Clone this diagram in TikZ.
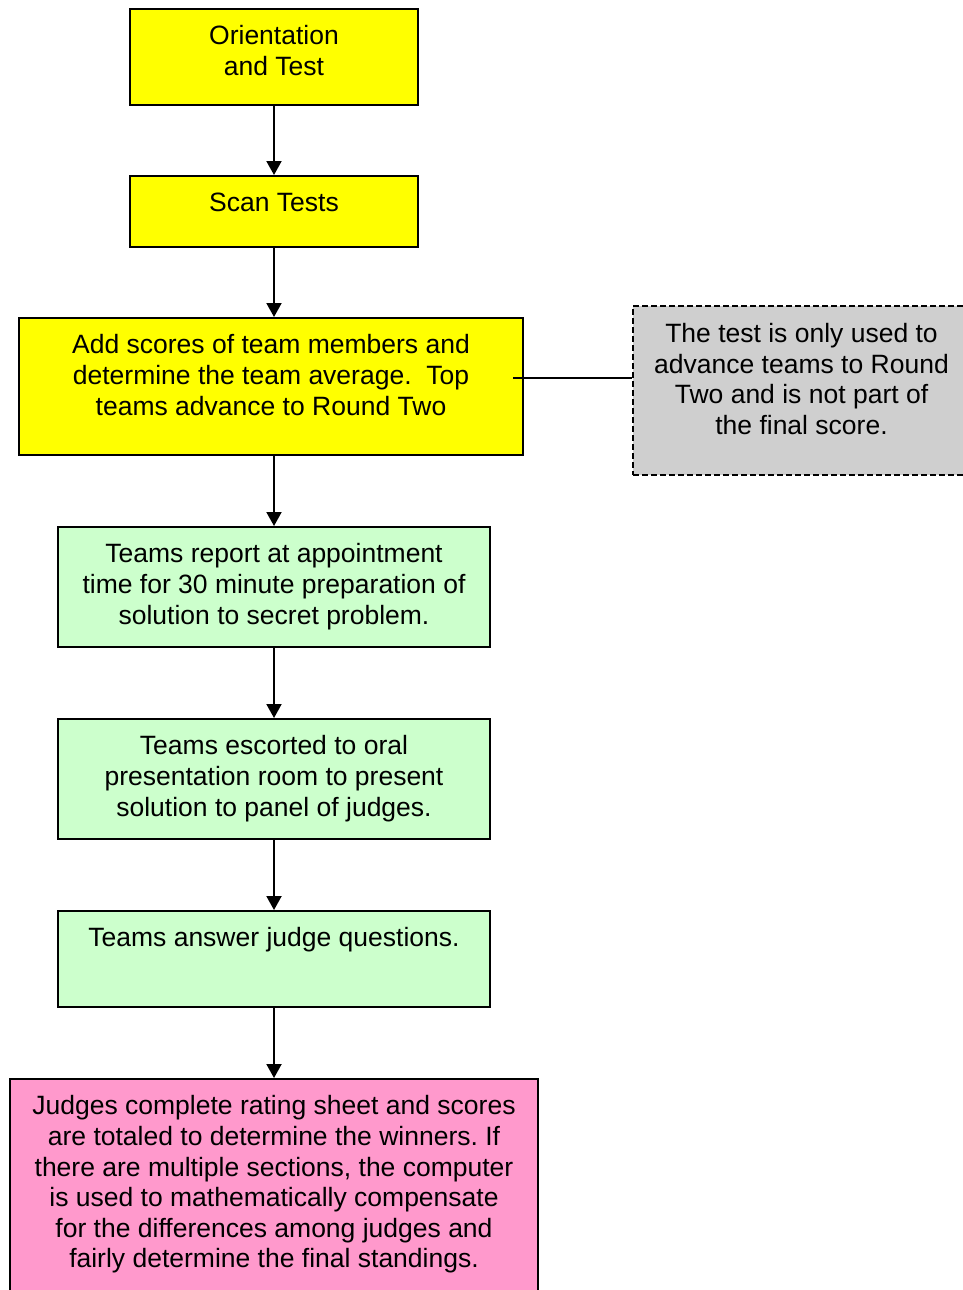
\documentclass[tikz,border=0pt]{standalone}
\usepackage{fontspec}
\setmainfont{Liberation Sans}
\frenchspacing
\usetikzlibrary{arrows.meta}
\definecolor{boxyellow}{HTML}{FFFF00}
\definecolor{boxgreen}{HTML}{CCFFCC}
\definecolor{boxpink}{HTML}{FF99CC}
\definecolor{boxgrey}{HTML}{CFCFCF}
\tikzset{
  box/.style={draw=black, line width=2pt, rectangle, inner sep=0pt},
  notebox/.style={draw=black, line width=1.5pt, dash pattern=on 6pt off 3pt, rectangle, inner sep=0pt, fill=boxgrey},
  txt/.style={anchor=north, inner sep=0pt, align=center, font=\fontsize{26.5}{30.6}\selectfont},
  flow/.style={line width=2pt, -{Triangle[width=15pt,length=14pt]}},
  link/.style={line width=1.5pt}
}
\begin{document}
\begin{tikzpicture}[x=1pt,y=-1pt]
\useasboundingbox (0,0) rectangle (963,1290);
\node[box, fill=boxyellow, minimum width=288pt, minimum height=96pt] (b1) at (274,57) {};
\node[box, fill=boxyellow, minimum width=288pt, minimum height=71pt] (b2) at (274,211.5) {};
\node[box, fill=boxyellow, minimum width=504pt, minimum height=137pt] (b3) at (271,386.5) {};
\node[notebox, minimum width=337pt, minimum height=169pt] (note) at (801.5,390.5) {};
\node[box, fill=boxgreen, minimum width=432pt, minimum height=120pt] (b5) at (274,587) {};
\node[box, fill=boxgreen, minimum width=432pt, minimum height=120pt] (b6) at (274,779) {};
\node[box, fill=boxgreen, minimum width=432pt, minimum height=96pt] (b7) at (274,959) {};
\node[box, fill=boxpink, minimum width=528pt, minimum height=221pt] (b8) at (274,1189.5) {};

\node[txt] (t1) at ([yshift=-17.5pt]b1.north) {Orientation\\and Test};
\node[txt] (t2) at ([yshift=-17.5pt]b2.north) {Scan Tests};
\node[txt] (t3) at ([yshift=-17.5pt]b3.north) {Add scores of team members and\\determine the team average.\ \ Top\\teams advance to Round Two};
\node[txt] (tn) at ([yshift=-18pt]note.north) {The test is only used to\\advance teams to Round\\Two and is not part of\\the final score.};
\node[txt] (t5) at ([yshift=-17.5pt]b5.north) {Teams report at appointment\\time for 30 minute preparation of\\solution to secret problem.};
\node[txt] (t6) at ([yshift=-17.5pt]b6.north) {Teams escorted to oral\\presentation room to present\\solution to panel of judges.};
\node[txt] (t7) at ([yshift=-17.5pt]b7.north) {Teams answer judge questions.};
\node[txt] (t8) at ([yshift=-17.5pt]b8.north) {Judges complete rating sheet and scores\\are totaled to determine the winners. If\\there are multiple sections, the computer\\is used to mathematically compensate\\for the differences among judges and\\fairly determine the final standings.};

\draw[flow] (b1.south) -- (b2.north);
\draw[flow] (b2.south) -- (b2.south |- b3.north);
\draw[flow] (b2.south |- b3.south) -- (b5.north);
\draw[flow] (b5.south) -- (b6.north);
\draw[flow] (b6.south) -- (b7.north);
\draw[flow] (b7.south) -- (b8.north);
\coordinate (c) at (513,378);
\draw[link] (c) -- (c -| note.west);
\end{tikzpicture}
\end{document}
